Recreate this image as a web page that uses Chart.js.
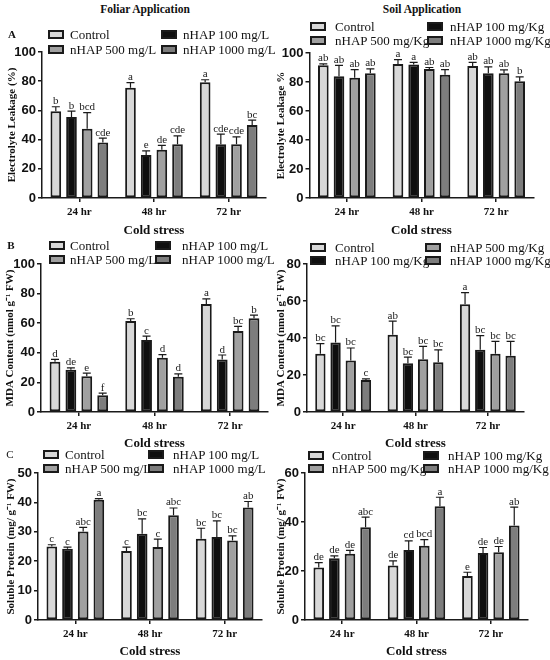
<!DOCTYPE html>
<html><head><meta charset="utf-8">
<script src="https://cdn.jsdelivr.net/npm/chart.js@4.4.1/dist/chart.umd.min.js"></script>
<style>
html,body{margin:0;padding:0;background:#fff;}
#wrap{position:relative;width:550px;height:660px;overflow:hidden;font-family:"Liberation Serif","Times New Roman",serif;color:#111;}
.pane{position:absolute;}
.t{position:absolute;white-space:nowrap;line-height:1;transform:translateY(-50%);font-family:"Liberation Serif","Times New Roman",serif;}
.c{transform:translate(-50%,-50%);}
.sw{position:absolute;width:12px;height:5px;border:2px solid #1a1a1a;}
</style></head><body><div id="wrap"></div>
<script>
// ---------- data ----------
const categories = ['24 hr', '48 hr', '72 hr'];
const foliarNames = ['Control', 'nHAP 100 mg/L', 'nHAP 500 mg/L', 'nHAP 1000 mg/L'];
const soilNames = ['Control', 'nHAP 100 mg/Kg', 'nHAP 500 mg/Kg', 'nHAP 1000 mg/Kg'];

// Electrolyte leakage, foliar (rows = series, cols = categories)
const elFoliar = [[59.5, 75.5, 79.3], [55.5, 29.5, 36.8], [47.5, 33, 36.8], [38, 36.8, 50]];
const elFoliarErr = [[3, 3.5, 1.7], [4, 2.8, 7], [11, 3, 5], [3, 5.7, 3.4]];
const elFoliarSig = [['b', 'a', 'a'], ['b', 'e', 'cde'], ['bcd', 'de', 'cde'], ['cde', 'cde', 'bc']];

// Electrolyte leakage, soil
const elSoil = [[91.5, 92.5, 91], [84, 92, 86], [83, 89, 86], [86, 85, 80.5]];
const elSoilErr = [[1, 3, 2.5], [7.5, 1.5, 4.5], [5.5, 1, 2.3], [3, 3.5, 3]];
const elSoilSig = [['ab', 'a', 'ab'], ['ab', 'a', 'ab'], ['ab', 'ab', 'ab'], ['ab', 'ab', 'b']];

// MDA, foliar
const mdaFoliar = [[34, 61.5, 73], [28.5, 48.7, 35.5], [24.2, 36.7, 54.8], [11.3, 23.8, 63.4]];
const mdaFoliarErr = [[1.5, 1.5, 3.5], [1.3, 2.5, 3], [2, 2, 3], [1.5, 2, 2]];
const mdaFoliarSig = [['d', 'b', 'a'], ['de', 'c', 'd'], ['e', 'd', 'bc'], ['f', 'd', 'b']];

// MDA, soil
const mdaSoil = [[31.5, 41.8, 58.2], [37.6, 26.4, 33.6], [27.8, 28.5, 31.5], [17.3, 26.9, 30.4]];
const mdaSoilErr = [[5.5, 7.3, 6.3], [9, 3.3, 7.7], [6.8, 7, 6.7], [0.6, 6.7, 7.8]];
const mdaSoilSig = [['bc', 'ab', 'a'], ['bc', 'bc', 'bc'], ['bc', 'bc', 'bc'], ['c', 'bc', 'bc']];

// Soluble protein, foliar
const protFoliar = [[25, 23.5, 27.6], [24.2, 29.3, 28.2], [30.1, 24.8, 27], [40.9, 35.6, 38.3]];
const protFoliarErr = [[0.6, 1.3, 3.6], [0.6, 5.1, 5.5], [1.4, 2.7, 1.6], [0.4, 2.5, 2]];
const protFoliarSig = [['c', 'c', 'bc'], ['c', 'bc', 'bc'], ['abc', 'c', 'bc'], ['a', 'abc', 'ab']];

// Soluble protein, soil
const protSoil = [[21.4, 22.2, 18], [25.2, 28.6, 27.3], [27, 30.3, 27.7], [37.9, 46.4, 38.6]];
const protSoilErr = [[2, 1.9, 1.5], [1, 3.7, 2.3], [1.4, 2.5, 2.3], [4.1, 3.7, 7.5]];
const protSoilSig = [['de', 'de', 'e'], ['de', 'cd', 'de'], ['de', 'bcd', 'de'], ['abc', 'a', 'ab']];

const yTitles = ['Electrolyte Leakage (%)', 'Electrolyte Leakage %', 'MDA Content (nmol g\u207B\u00B9 FW)',
  'MDA Content (nmol g\u207B\u00B9 FW)', 'Soluble Protein (mg/ g\u207B\u00B9 FW)', 'Soluble Protein (mg/ g\u207B\u00B9 FW)'];
const xTitle = 'Cold stress';

// ---------- styles ----------
const fills = ['#d8d8d8', '#0f0f0f', '#a0a0a0', '#7d7d7d'];
const edge = '#1a1a1a';

const panels = [
  {left: 0, top: 0, h: 240, padTop: 52, padRight: 9, yW: 42, xH: 42, ttlPad: 5.4, max: 100, step: 20,
   vals: elFoliar, err: elFoliarErr, sig: elFoliarSig, names: foliarNames, yt: yTitles[0],
   letter: {t: 'A', x: 12, y: 34, bold: true}, rows: [34, 49], sw: [48, 161], tx: [70, 183], order: [0, 1, 2, 3]},
  {left: 275, top: 0, h: 240, padTop: 53, padRight: 16.5, yW: 34.5, xH: 42, ttlPad: 0, max: 100, step: 20,
   vals: elSoil, err: elSoilErr, sig: elSoilSig, names: soilNames, yt: yTitles[1],
   rows: [26, 40], sw: [310, 427], tx: [335, 450], order: [0, 1, 2, 3]},
  {left: 0, top: 220, h: 233, padTop: 44, padRight: 7, yW: 41, xH: 41, ttlPad: 3.4, max: 100, step: 20,
   vals: mdaFoliar, err: mdaFoliarErr, sig: mdaFoliarSig, names: foliarNames, yt: yTitles[2],
   letter: {t: 'B', x: 11, y: 245, bold: true}, rows: [245, 259], sw: [49, 155], tx: [70, 182], order: [0, 1, 2, 3]},
  {left: 275, top: 220, h: 233, padTop: 44, padRight: 26, yW: 32, xH: 41, ttlPad: 0, max: 80, step: 20,
   vals: mdaSoil, err: mdaSoilErr, sig: mdaSoilSig, names: soilNames, yt: yTitles[3],
   rows: [247, 260], sw: [310, 425], tx: [335, 450], order: [0, 2, 1, 3]},
  {left: 0, top: 440, h: 221, padTop: 33, padRight: 13, yW: 38, xH: 41, ttlPad: 4.4, max: 50, step: 10,
   vals: protFoliar, err: protFoliarErr, sig: protFoliarSig, names: foliarNames, yt: yTitles[4],
   letter: {t: 'C', x: 10, y: 454, bold: false}, rows: [454, 468], sw: [43, 148], tx: [65, 173], order: [0, 1, 2, 3]},
  {left: 275, top: 440, h: 221, padTop: 33, padRight: 22, yW: 30, xH: 41, ttlPad: 0, max: 60, step: 20,
   vals: protSoil, err: protSoilErr, sig: protSoilSig, names: soilNames, yt: yTitles[5],
   rows: [455, 468], sw: [308, 423], tx: [332, 448], order: [0, 1, 2, 3]}
];

const errPlugin = {
  id: 'errLetters',
  afterDatasetsDraw(chart, args, opts) {
    const ctx = chart.ctx, ys = chart.scales.y;
    ctx.save();
    chart.data.datasets.forEach((ds, i) => {
      const meta = chart.getDatasetMeta(i);
      meta.data.forEach((bar, j) => {
        const v = ds.data[j], e = opts.errors[i][j];
        const yTop = ys.getPixelForValue(v + e);
        ctx.strokeStyle = edge; ctx.lineWidth = 1.2;
        ctx.beginPath();
        ctx.moveTo(bar.x, bar.y); ctx.lineTo(bar.x, yTop);
        ctx.moveTo(bar.x - 4, yTop); ctx.lineTo(bar.x + 4, yTop);
        ctx.stroke();
        ctx.fillStyle = edge;
        ctx.font = '11px "Liberation Serif"';
        ctx.textAlign = 'center'; ctx.textBaseline = 'alphabetic';
        ctx.fillText(opts.letters[i][j], bar.x, yTop - 2.5);
      });
    });
    ctx.restore();
  }
};

const wrap = document.getElementById('wrap');
function addText(txt, x, y, css, center) {
  const d = document.createElement('div');
  d.className = 't' + (center ? ' c' : '');
  d.textContent = txt;
  d.style.left = x + 'px'; d.style.top = y + 'px';
  Object.assign(d.style, css || {});
  wrap.appendChild(d);
}
addText('Foliar Application', 145, 10, {fontWeight: 'bold', fontSize: '11.5px'}, true);
addText('Soil Application', 422, 10, {fontWeight: 'bold', fontSize: '11.5px'}, true);

panels.forEach(p => {
  const div = document.createElement('div');
  div.className = 'pane';
  div.style.left = p.left + 'px'; div.style.top = p.top + 'px';
  div.style.width = '275px'; div.style.height = p.h + 'px';
  const cv = document.createElement('canvas');
  div.appendChild(cv);
  wrap.appendChild(div);

  new Chart(cv, {
    type: 'bar',
    data: {
      labels: categories,
      datasets: p.names.map((n, i) => ({
        label: n, data: p.vals[i], backgroundColor: fills[i],
        borderColor: edge, borderWidth: 2, borderSkipped: false,
        categoryPercentage: 0.84, barPercentage: 0.68
      }))
    },
    options: {
      responsive: true, maintainAspectRatio: false, animation: false,
      layout: {padding: {top: p.padTop, right: p.padRight, left: 0, bottom: 0}},
      plugins: {legend: {display: false}, tooltip: {enabled: false},
        errLetters: {errors: p.err, letters: p.sig}},
      scales: {
        x: {
          offset: true,
          afterFit: s => { s.height = p.xH; },
          grid: {offset: false, drawOnChartArea: false, drawTicks: true, tickLength: 4, color: edge, lineWidth: 1.5},
          border: {display: true, color: edge, width: 1.5},
          ticks: {color: '#111', padding: 4, font: {family: '"Liberation Serif"', weight: 'bold', size: 11}},
          title: {display: true, text: xTitle, color: '#111', padding: {top: 0, bottom: 2},
            font: {family: '"Liberation Serif"', weight: 'bold', size: 13}}
        },
        y: {
          min: 0, max: p.max,
          afterFit: s => { s.width = p.yW; },
          grid: {drawOnChartArea: false, drawTicks: true, tickLength: 4, color: edge, lineWidth: 1.5},
          border: {display: true, color: edge, width: 1.5},
          ticks: {stepSize: p.step, color: '#111', padding: 2,
            font: {family: '"Liberation Sans Narrow","Liberation Sans",Arial', weight: 'bold', size: 13}},
          title: {display: true, text: p.yt, color: '#111', padding: {top: p.ttlPad, bottom: 0},
            font: {family: '"Liberation Serif"', weight: 'bold', size: 11}}
        }
      }
    },
    plugins: [errPlugin]
  });

  if (p.letter) addText(p.letter.t, p.letter.x, p.letter.y,
    {fontWeight: p.letter.bold ? 'bold' : 'normal', fontSize: '11px'}, true);
  p.order.forEach((si, k) => {
    const col = k % 2, row = Math.floor(k / 2);
    const sw = document.createElement('div');
    sw.className = 'sw';
    sw.style.left = p.sw[col] + 'px';
    sw.style.top = (p.rows[row] - 4.5) + 'px';
    sw.style.background = fills[si];
    wrap.appendChild(sw);
    addText(p.names[si], p.tx[col], p.rows[row], {fontSize: '13px'});
  });
});
</script></body></html>
